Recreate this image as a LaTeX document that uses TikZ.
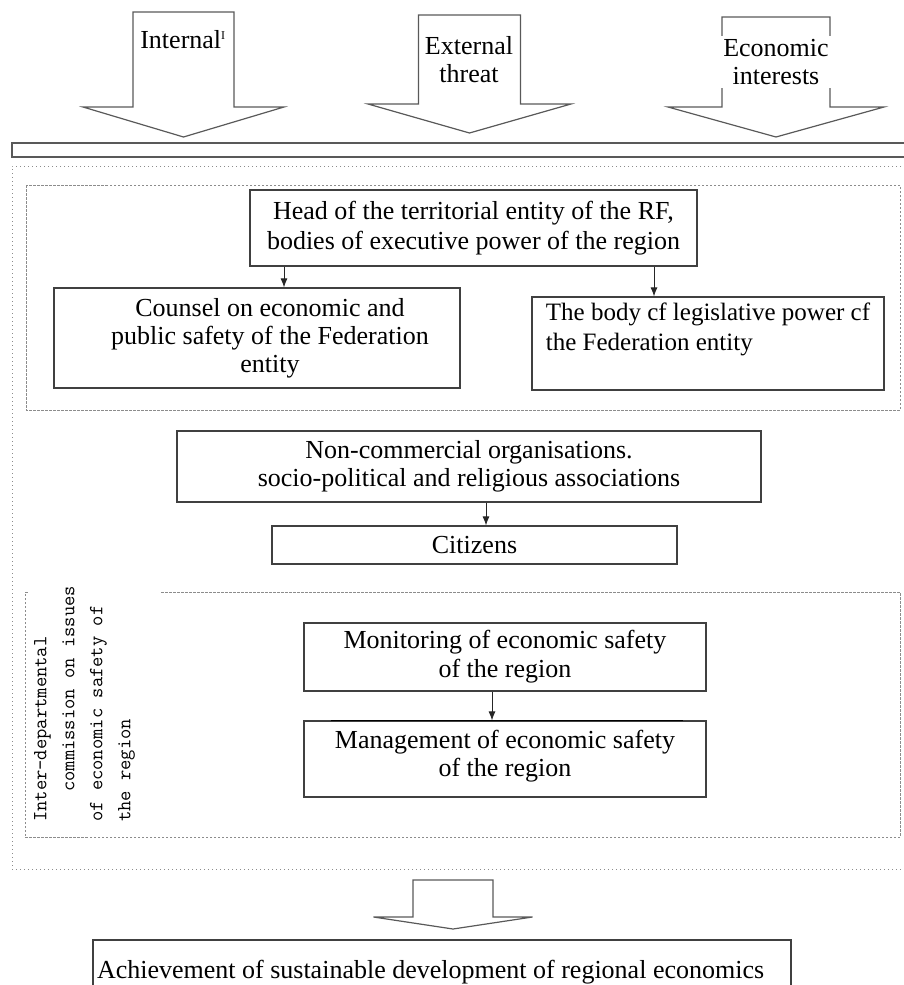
\documentclass[tikz,border=0pt]{standalone}
\usepackage{fontspec}
\setmainfont{Liberation Serif}
\usetikzlibrary{calc,positioning,arrows.meta}

\begin{document}
\begin{tikzpicture}[x=1pt,y=-1pt,>={Latex[length=9pt,width=7pt]},
  box/.style = {draw=black!75, line width=1.2pt, fill=white, inner sep=2pt, font=\fontsize{26}{30}\selectfont},
  lbl/.style = {align=center, inner sep=1pt, font=\fontsize{26}{28}\selectfont},
  blockarrow/.style = {draw=black!65, line width=1.2pt, line join=miter},
  dotframe/.style = {draw=black!45, line width=1pt, dash pattern=on 1pt off 3pt},
  dashframe/.style = {draw=black!45, line width=1pt, dash pattern=on 2.5pt off 1.5pt},
  link/.style = {->, draw=black!85, line width=0.9pt}]
\useasboundingbox (0,0) rectangle (903,985);

%Threat arrows and the bar under them
\foreach \cx/\hs/\tp/\wy/\hh/\tip in {183.5/50.5/12/107/100.5/137, 469.5/51/15/104/101.5/133, 776/54/17/107/108/137}
  \draw[blockarrow] (\cx-\hs,\tp) -- (\cx+\hs,\tp) -- (\cx+\hs,\wy) -- (\cx+\hh,\wy) -- (\cx,\tip)
    -- (\cx-\hh,\wy) -- (\cx-\hs,\wy) -- cycle;
\node (intern) at (183,40)[lbl] {Internal\textsuperscript{\fontsize{12}{12}\selectfont I}};
\node (extern) at (469,60)[lbl] {External\\threat};
\node (econ) at (776,62)[lbl, fill=white, inner sep=3pt] {Economic\\interests};
\draw[draw=black!65, line width=1.2pt] (12,143) rectangle (915,157);

%Frames
\draw[dotframe] (905,166) -- (12,166) -- (12,869) -- (905,869);
\draw[dashframe] (26,185) rectangle (900,410);
\draw[dashframe] (161,592) -- (900,592) -- (900,837) -- (25,837) -- (25,592) -- (29,592);

%Boxes
\node (head) at (473.5,228)[box, minimum width=447pt, minimum height=76pt, align=center] {Head of the territorial entity of the RF,\\bodies of executive power of the region};
\node (counsel) at (257,338)[box, minimum width=406pt, minimum height=100pt, align=center, font=\fontsize{26}{28}\selectfont] {\hspace*{26pt}Counsel on economic and\\\hspace*{26pt}public safety of the Federation\\\hspace*{26pt}entity};
\node (body) at (708,343.5)[box, minimum width=352pt, minimum height=93pt, align=left, font=\fontsize{25}{30}\selectfont] {The body cf legislative power cf\\the Federation entity\\[4pt]};
\node (noncom) at (469,466.5)[box, minimum width=584pt, minimum height=71pt, align=center, font=\fontsize{26}{28}\selectfont] {Non-commercial organisations.\\socio-political and religious associations};
\node (citizens) at (474.5,545)[box, minimum width=405pt, minimum height=38pt] {Citizens};
\node (monitor) at (505,657)[box, minimum width=402pt, minimum height=68pt, align=center, font=\fontsize{26}{29}\selectfont] {Monitoring of economic safety\\of the region};
\node (manage) at (505,759)[box, minimum width=402pt, minimum height=76pt, align=center, font=\fontsize{26}{28}\selectfont] {Management of economic safety\\of the region\\[-16pt]\mbox{}};
\draw[line width=1.8pt] ([xshift=28pt]manage.north west) -- ([xshift=-24pt]manage.north east);
\node (comm) at (34,822)[rotate=90, anchor=north west, align=left, inner sep=0pt, font=\ttfamily\fontsize{20}{28}\selectfont] {Inter-departmental\\\hspace*{1.5em}commission on issues\\of economic safety of\\the region};

%Connectors
\coordinate (c1) at (284,0);
\coordinate (c2) at (654,0);
\coordinate (c3) at (486,0);
\coordinate (c4) at (492,0);
\draw[link] (head.south -| c1) -- (counsel.north -| c1);
\draw[link] (head.south -| c2) -- (body.north -| c2);
\draw[link] (noncom.south -| c3) -- (citizens.north -| c3);
\draw[link] (monitor.south -| c4) -- (manage.north -| c4);

%Result
\draw[blockarrow] (413,880) -- (493,880) -- (493,917) -- (532.5,917) -- (453,929) -- (373.5,917) -- (413,917) -- cycle;
\node (result) at (442,972)[box, minimum width=698pt, minimum height=64pt, text width=690pt, inner xsep=4pt, align=flush left] {Achievement of sustainable development of regional economics};
\end{tikzpicture}
\end{document}
